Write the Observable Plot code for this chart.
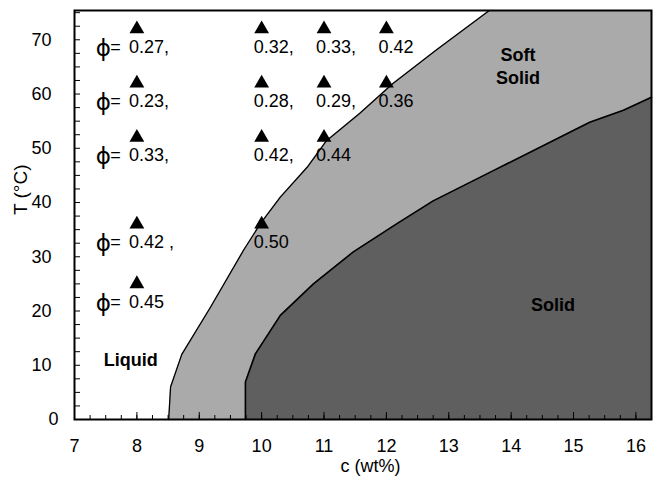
<!DOCTYPE html>
<html><head><meta charset="utf-8">
<script src="https://cdn.jsdelivr.net/npm/d3@7"></script>
<script src="https://cdn.jsdelivr.net/npm/@observablehq/plot@0.6"></script>
<style>body{margin:0;background:#fff}</style>
</head><body><div id="chart"></div>
<script>
// Liquid / soft-solid boundary
const liquidC = [8.51, 8.54, 8.72, 9.18, 9.71, 9.98, 10.30, 10.73, 11.04, 11.57, 12.10, 12.80, 13.65];
const liquidT = [0, 6.0, 12.0, 20.7, 31.2, 36.1, 41.0, 46.5, 51.4, 56.4, 61.9, 68.1, 75.4];
// Soft-solid / solid boundary
const solidC = [9.74, 9.74, 9.90, 10.30, 10.83, 11.47, 12.17, 12.75, 13.77, 15.26, 15.80, 16.25];
const solidT = [0, 6.9, 12.1, 19.2, 25.0, 30.9, 36.1, 40.3, 46.2, 54.8, 57.0, 59.4];
// Measured samples
const sampleC = [8, 8, 8, 8, 8, 10, 10, 10, 10, 11, 11, 11, 12, 12];
const sampleT = [72, 62, 52, 36, 25, 72, 62, 52, 36, 72, 62, 52, 72, 62];
const sampleLabel = ["0.27,", "0.23,", "0.33,", "0.42 ,", "0.45", "0.32,", "0.28,", "0.42,", "0.50", "0.33,", "0.29,", "0.44", "0.42", "0.36"];
// Region names
const regionName = ["Soft\nSolid", "Solid", "Liquid"];
const regionC = [14.11, 14.67, 7.90];
const regionT = [65.3, 21.4, 11.25];
// Axes
const xMin = 7, xMax = 16.25, yMin = 0, yMax = 75.4;
const xMajor = [7, 8, 9, 10, 11, 12, 13, 14, 15, 16];
const xMinor = d3.range(7, 16.26, 0.25);
const yMajor = [10, 20, 30, 40, 50, 60, 70];
const yMinor = d3.range(0, 75.1, 2.5);

const liquid = liquidC.map((c, i) => ({c, T: liquidT[i]}));
const solid = solidC.map((c, i) => ({c, T: solidT[i]}));
const samples = sampleC.map((c, i) => ({c, T: sampleT[i], label: sampleLabel[i]}));
const phiRows = samples.filter(d => d.c === 8);
const regions = regionName.map((n, i) => ({n, c: regionC[i], T: regionT[i]}));

const chart = Plot.plot({
  width: 656, height: 478,
  marginLeft: 74, marginRight: 5, marginTop: 10, marginBottom: 59,
  x: {domain: [xMin, xMax]},
  y: {domain: [yMin, yMax]},
  style: {fontFamily: "'Liberation Sans', Arial, sans-serif", fontSize: "18px", color: "black", background: "white"},
  marks: [
    Plot.areaX(liquid, {y: "T", x1: "c", x2: () => xMax, fill: "#aaaaaa"}),
    Plot.areaX(solid, {y: "T", x1: "c", x2: () => xMax, fill: "#5f5f5f"}),
    Plot.line(liquid, {x: "c", y: "T", stroke: "black", strokeWidth: 1.3}),
    Plot.line(solid, {x: "c", y: "T", stroke: "black", strokeWidth: 1.6}),
    Plot.dot(samples, {x: "c", y: "T", symbol: "triangle", r: 5.5, fill: "black"}),
    Plot.text(samples, {x: "c", y: "T", text: "label", textAnchor: "start", dx: -8, dy: 18, fontSize: 18}),
    Plot.text(phiRows, {x: "c", y: "T", text: () => "\u03d5", fontFamily: "DejaVu Sans", fontSize: 23, dx: -33.5, dy: 19.5}),
    Plot.text(phiRows, {x: "c", y: "T", text: () => "=", fontSize: 18, dx: -21.5, dy: 18}),
    Plot.text(regions, {x: "c", y: "T", text: "n", fontWeight: "bold", fontSize: 18, lineHeight: 1.3}),
    Plot.axisX({ticks: xMinor, tickSize: -4, tickFormat: () => "", label: null}),
    Plot.axisX({ticks: xMajor, tickSize: 0, tickPadding: 20, fontSize: 18, label: null}),
    Plot.axisX({ticks: xMajor, tickSize: -7, tickFormat: () => "", label: null}),
    Plot.axisY({ticks: yMinor, tickSize: -6, tickFormat: () => "", label: null}),
    Plot.axisY({ticks: yMajor, tickSize: 0, tickPadding: 23, fontSize: 18, label: null}),
    Plot.axisY({ticks: [0], tickSize: 0, tickPadding: 16, fontSize: 18, label: null}),
    Plot.frame({stroke: "black", strokeWidth: 2}),
    Plot.text(["T (\u00b0C)"], {frameAnchor: "left", rotate: -90, dx: -54, fontSize: 19}),
    Plot.text(["c (wt%)"], {frameAnchor: "bottom", dy: 52, dx: 7.5, fontSize: 18})
  ]
});
document.getElementById("chart").appendChild(chart);
</script>
</body></html>
